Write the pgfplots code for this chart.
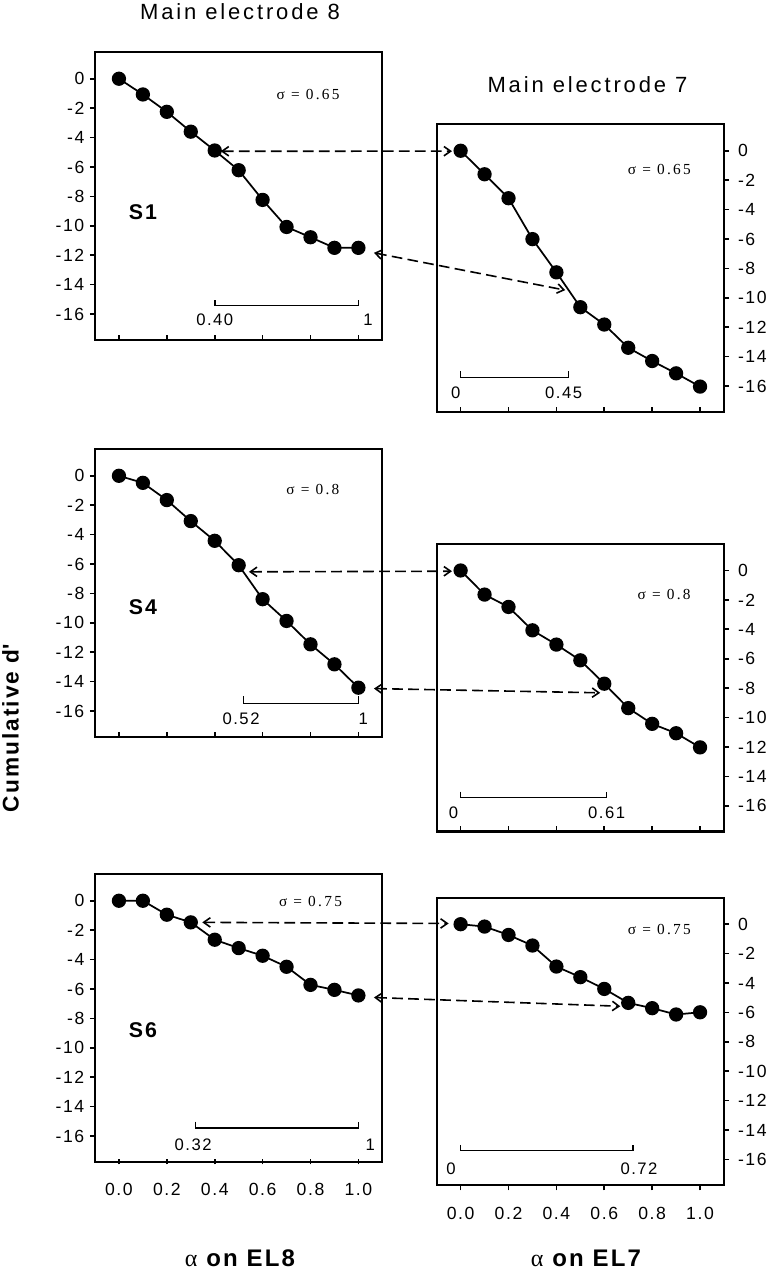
\documentclass[border=0pt]{standalone}
\usepackage{pgfplots}
\pgfplotsset{compat=1.18}
\usepackage{fontspec}
\setmainfont{Liberation Sans}[LetterSpace=9]
\newfontfamily\titlefont{Liberation Sans}[LetterSpace=13]
\newfontfamily\sigfont{Liberation Serif}[LetterSpace=15]
\newfontfamily\alphafont{Liberation Serif}
\usetikzlibrary{arrows.meta}

\pgfplotsset{
  panel/.style={
    scale only axis, width=215.5pt, height=215.6pt,
    xmin=-0.1, xmax=1.1, ymin=-17.75, ymax=1.8,
    axis line style={line width=1.6pt},
    xtick={0,0.2,0.4,0.6,0.8,1.0},
    ytick={0,-2,-4,-6,-8,-10,-12,-14,-16},
    yticklabels={0,-2,-4,-6,-8,-10,-12,-14,-16},
    xticklabels={},
    tick align=inside,
    major tick length=3.8pt,
    tick style={line width=1.2pt, black},
    xtick pos=left,
    tick label style={font=\fontsize{13.2}{15}\selectfont},
    clip=false,
    anchor=north west,
  },
  leftpanel/.style={panel, ytick pos=left, ytick style={xshift=-3.8pt}, yticklabel style={xshift=-4.5pt}},
  rightpanel/.style={panel, ytick pos=right, yticklabel pos=right, ytick style={xshift=3.8pt}, yticklabel style={xshift=7pt}},
  curve/.style={black, line width=1.3pt, mark=*, mark size=4.7pt, mark options={solid}},
}
\tikzset{
  sig/.style={font=\sigfont\fontsize{11.5}{13}\selectfont},
  slab/.style={font=\bfseries\fontsize{16}{18}\selectfont},
  blab/.style={font=\fontsize{12.5}{14}\selectfont},
  brk/.style={line width=1.2pt, black},
  darr/.style={line width=1.2pt, dash pattern=on 8pt off 4pt,
  {Straight Barb[length=5pt,width=7pt]}-{Straight Barb[length=5pt,width=7pt]}}}

\begin{document}
\begin{tikzpicture}
\useasboundingbox (0,0) rectangle (575.25pt,-953.25pt);

% ---------- S1 left (EL8)
\begin{axis}[leftpanel, at={(71.25pt,-39.2pt)}]
\addplot[curve] coordinates {(0,0) (0.1,-1.07) (0.2,-2.25) (0.3,-3.6) (0.4,-4.88) (0.5,-6.22) (0.6,-8.24) (0.7,-10.08) (0.8,-10.78) (0.9,-11.5) (1.0,-11.5)};
\node[sig] at (axis cs:0.79,-1.1) {σ = 0.65};
\node[slab] at (axis cs:0.10,-9.05) {S1};
\draw[brk] (axis cs:0.40,-15.05) -- (axis cs:0.40,-15.43) -- (axis cs:1.0,-15.43) -- (axis cs:1.0,-15.05);
\node[blab] at (axis cs:0.40,-16.4) {0.40};
\node[blab] at (axis cs:1.04,-16.4) {1};
\coordinate (L1a) at (axis cs:0.425,-4.93);
\coordinate (L1b) at (axis cs:1.065,-11.84);
\end{axis}

% ---------- S1 right (EL7)
\begin{axis}[rightpanel, at={(327.5pt,-93.2pt)}]
\addplot[curve] coordinates {(0,0) (0.1,-1.6) (0.2,-3.23) (0.3,-6.01) (0.4,-8.27) (0.5,-10.64) (0.6,-11.82) (0.7,-13.4) (0.8,-14.3) (0.9,-15.14) (1.0,-16.04)};
\node[sig] at (axis cs:0.83,-1.31) {σ = 0.65};
\draw[brk] (axis cs:0,-15.0) -- (axis cs:0,-15.43) -- (axis cs:0.45,-15.43) -- (axis cs:0.45,-15.0);
\node[blab] at (axis cs:-0.02,-16.45) {0};
\node[blab] at (axis cs:0.43,-16.45) {0.45};
\coordinate (R1a) at (axis cs:-0.036,-0.03);
\coordinate (R1b) at (axis cs:0.437,-9.48);
\end{axis}

% ---------- S4 left
\begin{axis}[leftpanel, at={(71.25pt,-337pt)}]
\addplot[curve] coordinates {(0,0) (0.1,-0.48) (0.2,-1.65) (0.3,-3.08) (0.4,-4.42) (0.5,-6.08) (0.6,-8.39) (0.7,-9.87) (0.8,-11.46) (0.9,-12.82) (1.0,-14.41)};
\node[sig] at (axis cs:0.81,-0.93) {σ = 0.8};
\node[slab] at (axis cs:0.10,-8.94) {S4};
\draw[brk] (axis cs:0.52,-14.99) -- (axis cs:0.52,-15.49) -- (axis cs:1.0,-15.49) -- (axis cs:1.0,-14.99);
\node[blab] at (axis cs:0.51,-16.5) {0.52};
\node[blab] at (axis cs:1.02,-16.5) {1};
\coordinate (L4a) at (axis cs:0.543,-6.53);
\coordinate (L4b) at (axis cs:1.065,-14.47);
\end{axis}

% ---------- S4 right
\begin{axis}[rightpanel, at={(327.5pt,-408pt)}]
\addplot[curve] coordinates {(0,0) (0.1,-1.64) (0.2,-2.48) (0.3,-4.07) (0.4,-5.04) (0.5,-6.11) (0.6,-7.70) (0.7,-9.36) (0.8,-10.43) (0.9,-11.07) (1.0,-12.03)};
\node[sig] at (axis cs:0.85,-1.64) {σ = 0.8};
\draw[brk] (axis cs:0,-15.04) -- (axis cs:0,-15.45) -- (axis cs:0.61,-15.45) -- (axis cs:0.61,-15.04);
\node[blab] at (axis cs:-0.03,-16.5) {0};
\node[blab] at (axis cs:0.61,-16.5) {0.61};
\coordinate (R4a) at (axis cs:-0.036,-0.05);
\coordinate (R4b) at (axis cs:0.583,-8.32);
\end{axis}

% ---------- S6 left
\begin{axis}[leftpanel, at={(71.25pt,-655.7pt)},
  xticklabels={0.0,0.2,0.4,0.6,0.8,1.0},
  xtick style={yshift=-1.9pt}, xticklabel style={yshift=-12.5pt}]
\addplot[curve] coordinates {(0,0) (0.1,0) (0.2,-0.95) (0.3,-1.47) (0.4,-2.65) (0.5,-3.22) (0.6,-3.74) (0.7,-4.49) (0.8,-5.72) (0.9,-6.06) (1.0,-6.44)};
\node[sig] at (axis cs:0.80,-0.05) {σ = 0.75};
\node[slab] at (axis cs:0.10,-8.83) {S6};
\draw[brk] (axis cs:0.32,-15.02) -- (axis cs:0.32,-15.47) -- (axis cs:1.0,-15.47) -- (axis cs:1.0,-15.02);
\node[blab] at (axis cs:0.31,-16.6) {0.32};
\node[blab] at (axis cs:1.05,-16.6) {1};
\coordinate (L6a) at (axis cs:0.348,-1.47);
\coordinate (L6b) at (axis cs:1.065,-6.58);
\end{axis}

% ---------- S6 right
\begin{axis}[rightpanel, at={(327.5pt,-673.3pt)},
  xticklabels={0.0,0.2,0.4,0.6,0.8,1.0},
  xtick style={yshift=-3.8pt}, xticklabel style={yshift=-13pt}]
\addplot[curve] coordinates {(0,0) (0.1,-0.16) (0.2,-0.73) (0.3,-1.45) (0.4,-2.88) (0.5,-3.60) (0.6,-4.40) (0.7,-5.35) (0.8,-5.71) (0.9,-6.14) (1.0,-5.99)};
\node[sig] at (axis cs:0.83,-0.39) {σ = 0.75};
\draw[brk] (axis cs:0,-15.0) -- (axis cs:0,-15.39) -- (axis cs:0.72,-15.39) -- (axis cs:0.72,-15.0);
\node[blab] at (axis cs:-0.04,-16.64) {0};
\node[blab] at (axis cs:0.745,-16.64) {0.72};
\coordinate (R6a) at (axis cs:-0.05,0.05);
\coordinate (R6b) at (axis cs:0.667,-5.58);
\end{axis}

% ---------- connecting arrows
\draw[darr] (L1a) -- (R1a);
\draw[darr] (L1b) -- (R1b);
\draw[darr] (L4a) -- (R4a);
\draw[darr] (L4b) -- (R4b);
\draw[darr] (L6a) -- (R6a);
\draw[darr] (L6b) -- (R6b);

% ---------- titles and labels
\node[anchor=base, font=\titlefont\fontsize{16.5}{18}\selectfont] at (180pt,-14.5pt) {Main electrode 8};
\node[anchor=base, font=\titlefont\fontsize{16.5}{18}\selectfont] at (440.6pt,-69.5pt) {Main electrode 7};
\node[rotate=90, font=\bfseries\fontsize{17}{19}\selectfont] at (7.8pt,-546pt) {Cumulative d\textquotesingle};
\node[anchor=base, font=\bfseries\fontsize{18}{20}\selectfont] at (180pt,-950pt) {{\alphafont\mdseries α} on EL8};
\node[anchor=base, font=\bfseries\fontsize{18}{20}\selectfont] at (439.5pt,-950pt) {{\alphafont\mdseries α} on EL7};
\end{tikzpicture}
\end{document}
